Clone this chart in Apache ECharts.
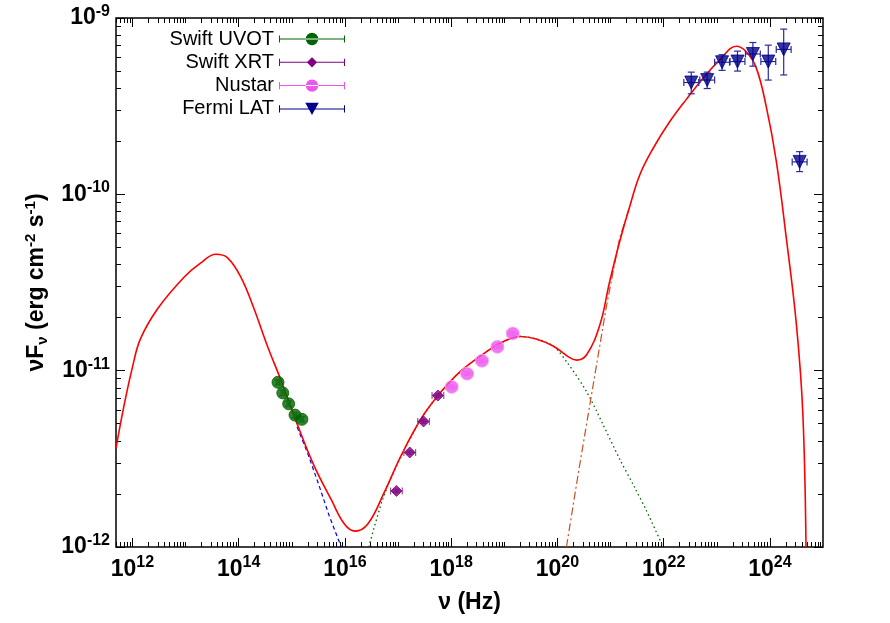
<!DOCTYPE html>
<html>
<head>
<meta charset="utf-8">
<script src="https://cdn.jsdelivr.net/npm/echarts@6/dist/echarts.min.js"></script>
<style>html,body{margin:0;padding:0;background:#fff}#chart{width:890px;height:623px}</style>
</head>
<body>
<div id="chart"></div>
<script>
// all values are log10(nu/Hz) and log10(nuFnu / erg cm-2 s-1)
var totalModel = [[11.69,-11.44],[11.84,-11.2],[12.0,-10.98],[12.15,-10.82],[12.47,-10.65],[12.97,-10.47],[13.28,-10.39],[13.57,-10.34],[13.79,-10.36],[14.04,-10.47],[14.29,-10.65],[14.54,-10.86],[14.79,-11.05],[15.11,-11.31],[15.42,-11.54],[15.74,-11.73],[15.99,-11.87],[16.19,-11.91],[16.43,-11.87],[16.74,-11.69],[17.06,-11.48],[17.44,-11.27],[17.81,-11.12],[18.19,-11.0],[18.63,-10.9],[18.95,-10.84],[19.3,-10.806],[19.6,-10.82],[19.92,-10.86],[20.2,-10.92],[20.36,-10.94],[20.55,-10.91],[20.8,-10.74],[20.98,-10.5],[21.17,-10.27],[21.36,-10.07],[21.55,-9.89],[21.8,-9.74],[22.11,-9.59],[22.43,-9.46],[22.8,-9.32],[23.05,-9.24],[23.37,-9.16],[23.55,-9.19],[23.74,-9.28],[23.93,-9.5],[24.12,-9.81],[24.31,-10.25],[24.5,-10.74],[24.62,-11.24],[24.68,-12.0]];
var syncTail = [[15.1,-11.32],[15.3,-11.47],[15.5,-11.64],[15.7,-11.82],[15.93,-12.0]];
var sscModel = [[16.45,-12.0],[16.7,-11.74],[17.0,-11.52],[17.44,-11.27],[17.81,-11.12],[18.19,-11.0],[18.63,-10.9],[18.95,-10.84],[19.3,-10.806],[19.6,-10.82],[19.92,-10.86],[20.2,-10.96],[20.55,-11.12],[20.85,-11.3],[21.17,-11.5],[21.45,-11.66],[21.67,-11.79],[21.99,-12.0]];
var ecModel = [[20.17,-12.0],[20.4,-11.57],[20.64,-11.14],[20.92,-10.64],[21.17,-10.25],[21.36,-10.07]];

// [logNu, logFlux, xErr, yErrLow, yErrHigh]
var uvot = [[14.74,-11.066,0.03,0.015,0.015],[14.83,-11.126,0.03,0.015,0.015],[14.94,-11.188,0.03,0.015,0.015],[15.06,-11.252,0.03,0.015,0.015],[15.19,-11.276,0.03,0.015,0.015]];
var xrt = [[16.97,-11.682,0.11,0.01,0.01],[17.22,-11.464,0.11,0.01,0.01],[17.48,-11.288,0.11,0.01,0.01],[17.75,-11.141,0.11,0.01,0.01]];
var nustar = [[18.01,-11.092,0.11,0.01,0.01],[18.3,-11.017,0.11,0.01,0.01],[18.58,-10.944,0.11,0.01,0.01],[18.87,-10.865,0.11,0.01,0.01],[19.16,-10.789,0.11,0.01,0.01]];
var fermi = [[22.52,-9.366,0.14,0.064,0.059],[22.82,-9.352,0.14,0.048,0.045],[23.1,-9.251,0.14,0.046,0.043],[23.39,-9.247,0.14,0.054,0.059],[23.68,-9.204,0.14,0.069,0.065],[23.97,-9.247,0.14,0.105,0.093],[24.26,-9.178,0.14,0.145,0.115],[24.56,-9.816,0.14,0.055,0.058]];

var xMajor = [12,14,16,18,20,22,24];
var yMajor = [-12,-11,-10,-9];
var xMin = 11.69, xMax = 25.0, yMin = -12, yMax = -9;

function minors(lo, hi) {
    var out = [];
    for (var d = Math.floor(lo); d < hi; d++) {
        for (var k = 2; k <= 9; k++) {
            var v = d + Math.log10(k);
            if (v > lo && v < hi) out.push(v);
        }
        if (d % 2 !== 0 && d > lo && d < hi && hi - lo > 5) out.push(d);
    }
    return out;
}
var xMinor = minors(xMin, xMax);
var yMinor = minors(yMin, yMax);

var supRich = {
    b: {fontFamily: 'Liberation Sans', fontWeight: 'bold', fontSize: 23, color: '#000'},
    sup: {fontFamily: 'Liberation Sans', fontWeight: 'bold', fontSize: 16, color: '#000', verticalAlign: 'bottom', padding: [0, 0, 13, 0]}
};

function xAx(pos, vals, len, labels) {
    return {
        type: 'value', min: xMin, max: xMax, position: pos,
        axisLine: {show: false}, splitLine: {show: false},
        axisTick: {show: true, inside: true, length: len, customValues: vals, lineStyle: {color: '#000'}},
        axisLabel: labels ? {show: true, customValues: xMajor, margin: 8, formatter: function(v){ return '{b|10}{sup|' + Math.round(v) + '}'; }, rich: supRich} : {show: false}
    };
}
function yAx(pos, vals, len, labels) {
    return {
        type: 'value', min: yMin, max: yMax, position: pos,
        axisLine: {show: false}, splitLine: {show: false},
        axisTick: {show: true, inside: true, length: len, customValues: vals, lineStyle: {color: '#000'}},
        axisLabel: labels ? {show: true, customValues: yMajor, margin: 6, formatter: function(v){ return '{b|10}{sup|' + Math.round(v) + '}'; }, rich: supRich} : {show: false}
    };
}

var xAxes = [xAx('bottom', xMajor, 9, true), xAx('bottom', xMinor, 5, false), xAx('top', xMajor, 9, false), xAx('top', xMinor, 5, false)];
xAxes[0].name = 'ν (Hz)';
xAxes[0].nameLocation = 'middle';
xAxes[0].nameGap = 44;
xAxes[0].nameTextStyle = {fontFamily: 'Liberation Sans', fontWeight: 'bold', fontSize: 23, color: '#000'};

var yAxes = [yAx('left', yMajor, 9, true), yAx('left', yMinor, 5, false), yAx('right', yMajor, 9, false), yAx('right', yMinor, 5, false)];
yAxes[0].name = 'νF{sub|ν} (erg cm{sup|-2} s{sup|-1})';
yAxes[0].nameLocation = 'middle';
yAxes[0].nameRotate = 90;
yAxes[0].nameGap = 66;
yAxes[0].nameTextStyle = {
    fontFamily: 'Liberation Sans', fontWeight: 'bold', fontSize: 23, color: '#000',
    rich: {
        sub: {fontFamily: 'Liberation Sans', fontWeight: 'bold', fontSize: 15, color: '#000', verticalAlign: 'top', padding: [12, 0, 0, 0]},
        sup: {fontFamily: 'Liberation Sans', fontWeight: 'bold', fontSize: 15, color: '#000', verticalAlign: 'bottom', padding: [0, 0, 12, 0]}
    }
};

function errorSeries(name, data, barColor, symbol, symbolSize, color, borderColor) {
    return [{
        type: 'custom', name: name, z: 5,
        data: data,
        renderItem: function(params, api) {
            var x = api.value(0), y = api.value(1), dx = api.value(2), dl = api.value(3), dh = api.value(4);
            var l = api.coord([x - dx, y]), r = api.coord([x + dx, y]);
            var b = api.coord([x, y - dl]), t = api.coord([x, y + dh]);
            var st = {stroke: barColor, lineWidth: 1.2};
            var c = 3.5;
            return {type: 'group', children: [
                {type: 'line', shape: {x1: l[0], y1: l[1], x2: r[0], y2: r[1]}, style: st},
                {type: 'line', shape: {x1: l[0], y1: l[1] - c, x2: l[0], y2: l[1] + c}, style: st},
                {type: 'line', shape: {x1: r[0], y1: r[1] - c, x2: r[0], y2: r[1] + c}, style: st},
                {type: 'line', shape: {x1: b[0], y1: b[1], x2: t[0], y2: t[1]}, style: st},
                {type: 'line', shape: {x1: b[0] - c, y1: b[1], x2: b[0] + c, y2: b[1]}, style: st},
                {type: 'line', shape: {x1: t[0] - c, y1: t[1], x2: t[0] + c, y2: t[1]}, style: st}
            ]};
        }
    }, {
        type: 'scatter', name: name, z: 6,
        data: data.map(function(d){ return [d[0], d[1]]; }),
        symbol: symbol, symbolSize: symbolSize,
        itemStyle: {color: color, borderColor: borderColor || color, borderWidth: 1}
    }];
}

function legendIcon(marker) {
    var bar = 'M0 6.5 H64 V7.5 H0 Z M0 3.5 H1 V10.5 H0 Z M63 3.5 H64 V10.5 H63 Z ';
    return 'path://' + bar + marker;
}
var circ = 'M26 7 A6 6 0 1 0 38 7 A6 6 0 1 0 26 7 Z';
var diam = 'M32 2 L37 7 L32 12 L27 7 Z';
var tri = 'M25.5 1 H38.5 L32 13 Z';

var legendNames = ['Swift UVOT', 'Swift XRT', 'Nustar', 'Fermi LAT'];
var legendIcons = [circ, diam, circ, tri];
var legendColors = ['#006400', '#800080', '#ee55ee', '#00008b'];
var legends = legendNames.map(function(n, i) {
    return {
        right: 545, top: 29 + i * 23.3, orient: 'horizontal', align: 'right',
        itemWidth: 66, itemHeight: 14, itemGap: 8, selectedMode: false, padding: 0,
        data: [{name: n, icon: legendIcon(legendIcons[i]), itemStyle: {color: legendColors[i]}}],
        textStyle: {fontFamily: 'Liberation Sans', fontSize: 20, color: '#000'}
    };
});

var series = [
    {type: 'line', name: 'sync', data: syncTail, showSymbol: false, lineStyle: {color: '#0000ff', width: 1.2, type: [4, 3]}, z: 2},
    {type: 'line', name: 'ssc', data: sscModel, showSymbol: false, smooth: 0.3, lineStyle: {color: '#006400', width: 1.3, type: [1.5, 3]}, z: 2},
    {type: 'line', name: 'ec', data: ecModel, showSymbol: false, lineStyle: {color: '#c8501e', width: 1.2, type: [8, 3, 2, 3]}, z: 2},
    {type: 'line', name: 'total', data: totalModel, showSymbol: false, smooth: 0.4, lineStyle: {color: '#ff0000', width: 1.6}, z: 3}
].concat(
    errorSeries('Swift UVOT', uvot, '#5a9a5a', 'circle', 12, '#006400'),
    errorSeries('Swift XRT', xrt, '#a050a0', 'diamond', 11, '#800080'),
    errorSeries('Nustar', nustar, '#f0a0f0', 'circle', 13, '#ee55ee', '#f5b0f5'),
    errorSeries('Fermi LAT', fermi, '#2a2aa0', 'triangle', 13, '#00008b')
);
series.forEach(function(s){ if (s.type === 'scatter' && s.symbol === 'triangle') s.symbolRotate = 180; });

var chart = echarts.init(document.getElementById('chart'), null, {renderer: 'canvas'});
chart.setOption({
    animation: false,
    grid: {left: 116, right: 67, top: 18, bottom: 76, show: true, borderColor: '#000', borderWidth: 1.5, backgroundColor: 'transparent'},
    legend: legends,
    xAxis: xAxes,
    yAxis: yAxes,
    series: series
});
</script>
</body>
</html>
